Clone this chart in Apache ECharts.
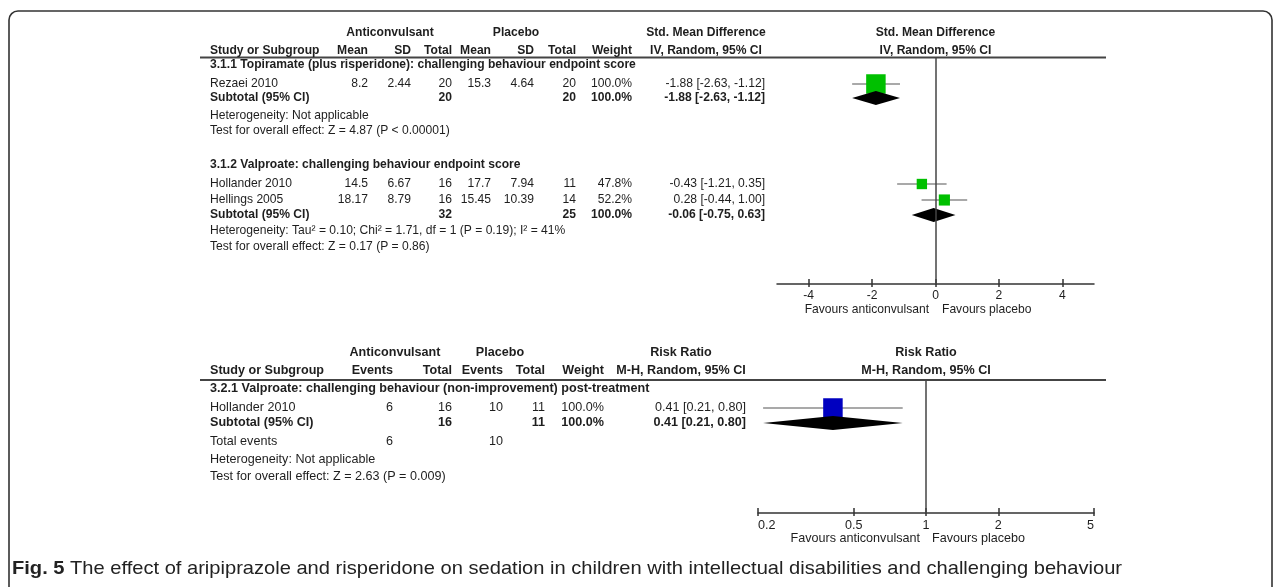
<!DOCTYPE html>
<html><head><meta charset="utf-8">
<script src="https://cdn.jsdelivr.net/npm/echarts@6/dist/echarts.min.js"></script>
<style>html,body{margin:0;padding:0;background:#fff;}#c{width:1281px;height:587px;}</style>
</head><body><div id="c"></div>
<script>
// ---------- DATA: Analysis 3.1 (Std. Mean Difference) ----------
const smdSubgroups = ['3.1.1 Topiramate (plus risperidone): challenging behaviour endpoint score',
                      '3.1.2 Valproate: challenging behaviour endpoint score'];
const smdStudies  = ['Rezaei 2010', 'Hollander 2010', 'Hellings 2005'];
const smdStudyGroup = [0, 1, 1];
const smdExpMean  = [8.2, 14.5, 18.17];
const smdExpSD    = [2.44, 6.67, 8.79];
const smdExpN     = [20, 16, 16];
const smdCtlMean  = [15.3, 17.7, 15.45];
const smdCtlSD    = [4.64, 7.94, 10.39];
const smdCtlN     = [20, 11, 14];
const smdWeight   = [100.0, 47.8, 52.2];
const smdEst      = [-1.88, -0.43, 0.28];
const smdLo       = [-2.63, -1.21, -0.44];
const smdHi       = [-1.12, 0.35, 1.00];
const smdSubExpN  = [20, 32];
const smdSubCtlN  = [20, 25];
const smdSubEst   = [-1.88, -0.06];
const smdSubLo    = [-2.63, -0.75];
const smdSubHi    = [-1.12, 0.63];
const smdHet  = ['Heterogeneity: Not applicable',
                 'Heterogeneity: Tau\u00B2 = 0.10; Chi\u00B2 = 1.71, df = 1 (P = 0.19); I\u00B2 = 41%'];
const smdTest = ['Test for overall effect: Z = 4.87 (P < 0.00001)',
                 'Test for overall effect: Z = 0.17 (P = 0.86)'];
const smdTicks = [-4, -2, 0, 2, 4];
const smdRange = [-5, 5];

// ---------- DATA: Analysis 3.2 (Risk Ratio) ----------
const rrSubgroups = ['3.2.1 Valproate: challenging behaviour (non-improvement) post-treatment'];
const rrStudies   = ['Hollander 2010'];
const rrExpEvents = [6];
const rrExpN      = [16];
const rrCtlEvents = [10];
const rrCtlN      = [11];
const rrWeight    = [100.0];
const rrEst       = [0.41];
const rrLo        = [0.21];
const rrHi        = [0.80];
const rrSubExpN   = [16];
const rrSubCtlN   = [11];
const rrSubEst    = [0.41];
const rrSubLo     = [0.21];
const rrSubHi     = [0.80];
const rrTotEvents = [6, 10];
const rrHet  = ['Heterogeneity: Not applicable'];
const rrTest = ['Test for overall effect: Z = 2.63 (P = 0.009)'];
const rrTicks = [0.2, 0.5, 1, 2, 5];
const rrRange = [0.2, 5];

const captionLabel = 'Fig. 5';
const caption = 'The effect of aripiprazole and risperidone on sedation in children with intellectual disabilities and challenging behaviour';

// ---------- LAYOUT ----------
const FF = '"Liberation Sans", Arial, Helvetica, sans-serif';
const TXT = '#1e1e1e';
const textLeft = 210;
const LT = { fs: 12.1, hdr1: 33, hdr2: 51, rule: 57.5, sub: [65, 165], study: [84, 184, 200], subtotal: [98, 215],
  het: [116, 231], test: [131, 247], axisY: 284, fav: 310,
  cols: [368, 411, 452, 491, 534, 576, 632, 765], grp: [390, 516], eff: 706,
  plotL: 777, plotR: 1094, favL: 929, favR: 942 };
const LB = { fs: 12.6, hdr1: 353, hdr2: 371, rule: 380, sub: [389], study: [408], subtotal: [423], tot: 442,
  het: [460], test: [477], axisY: 513, fav: 539,
  cols: [393, 452, 503, 545, 604, 746], grp: [395, 500], eff: 681,
  plotL: 758, plotR: 1094, favL: 920, favR: 932 };

const G = [];
function txt(s, x, y, o) {
  o = o || {};
  G.push({ type: 'text', x: x, y: y, silent: true, z: 10,
    style: { text: String(s), fill: TXT, font: (o.bold ? 'bold ' : '') + (o.size || 12) + 'px ' + FF,
      align: o.align || 'left', verticalAlign: 'middle' } });
}
function hline(x1, x2, y, w) {
  G.push({ type: 'line', silent: true, shape: { x1: x1, y1: y, x2: x2, y2: y }, style: { stroke: '#444', lineWidth: w || 2 } });
}
const f2 = v => v.toFixed(2);
const ci = (e, l, h) => f2(e) + ' [' + f2(l) + ', ' + f2(h) + ']';
const pct = v => v.toFixed(1) + '%';

// frame
G.push({ type: 'rect', silent: true, shape: { x: 9, y: 11, width: 1263, height: 640, r: 9 },
  style: { fill: 'none', stroke: '#333', lineWidth: 1.6 } });

// ---- top table ----
(function () {
  const S = LT.fs, B = { bold: 1, size: S }, R = { size: S };
  const c = (o, a) => Object.assign({}, o, a);
  txt('Anticonvulsant', LT.grp[0], LT.hdr1, c(B, { align: 'center' }));
  txt('Placebo', LT.grp[1], LT.hdr1, c(B, { align: 'center' }));
  txt('Std. Mean Difference', LT.eff, LT.hdr1, c(B, { align: 'center' }));
  txt('Std. Mean Difference', (LT.plotL + LT.plotR) / 2, LT.hdr1, c(B, { align: 'center' }));
  txt('Study or Subgroup', textLeft, LT.hdr2, B);
  ['Mean', 'SD', 'Total', 'Mean', 'SD', 'Total', 'Weight'].forEach((h, i) => txt(h, LT.cols[i], LT.hdr2, c(B, { align: 'right' })));
  txt('IV, Random, 95% CI', LT.eff, LT.hdr2, c(B, { align: 'center' }));
  txt('IV, Random, 95% CI', (LT.plotL + LT.plotR) / 2, LT.hdr2, c(B, { align: 'center' }));
  hline(200, 1106, LT.rule);
  smdSubgroups.forEach((s, g) => {
    txt(s, textLeft, LT.sub[g], B);
    txt('Subtotal (95% CI)', textLeft, LT.subtotal[g], B);
    txt(smdSubExpN[g], LT.cols[2], LT.subtotal[g], c(B, { align: 'right' }));
    txt(smdSubCtlN[g], LT.cols[5], LT.subtotal[g], c(B, { align: 'right' }));
    txt(pct(100), LT.cols[6], LT.subtotal[g], c(B, { align: 'right' }));
    txt(ci(smdSubEst[g], smdSubLo[g], smdSubHi[g]), LT.cols[7], LT.subtotal[g], c(B, { align: 'right' }));
    txt(smdHet[g], textLeft, LT.het[g], R);
    txt(smdTest[g], textLeft, LT.test[g], R);
  });
  smdStudies.forEach((s, i) => {
    const y = LT.study[i];
    txt(s, textLeft, y, R);
    [smdExpMean[i], smdExpSD[i], smdExpN[i], smdCtlMean[i], smdCtlSD[i], smdCtlN[i], pct(smdWeight[i]),
     ci(smdEst[i], smdLo[i], smdHi[i])].forEach((v, k) => txt(v, LT.cols[k], y, c(R, { align: 'right' })));
  });
  txt('Favours anticonvulsant', LT.favL, LT.fav, c(R, { align: 'right' }));
  txt('Favours placebo', LT.favR, LT.fav, R);
})();

// ---- bottom table ----
(function () {
  const S = LB.fs, B = { bold: 1, size: S }, R = { size: S };
  const c = (o, a) => Object.assign({}, o, a);
  txt('Anticonvulsant', LB.grp[0], LB.hdr1, c(B, { align: 'center' }));
  txt('Placebo', LB.grp[1], LB.hdr1, c(B, { align: 'center' }));
  txt('Risk Ratio', LB.eff, LB.hdr1, c(B, { align: 'center' }));
  txt('Risk Ratio', (LB.plotL + LB.plotR) / 2, LB.hdr1, c(B, { align: 'center' }));
  txt('Study or Subgroup', textLeft, LB.hdr2, B);
  ['Events', 'Total', 'Events', 'Total', 'Weight'].forEach((h, i) => txt(h, LB.cols[i], LB.hdr2, c(B, { align: 'right' })));
  txt('M-H, Random, 95% CI', LB.eff, LB.hdr2, c(B, { align: 'center' }));
  txt('M-H, Random, 95% CI', (LB.plotL + LB.plotR) / 2, LB.hdr2, c(B, { align: 'center' }));
  hline(200, 1106, LB.rule);
  rrSubgroups.forEach((s, g) => {
    txt(s, textLeft, LB.sub[g], B);
    txt('Subtotal (95% CI)', textLeft, LB.subtotal[g], B);
    txt(rrSubExpN[g], LB.cols[1], LB.subtotal[g], c(B, { align: 'right' }));
    txt(rrSubCtlN[g], LB.cols[3], LB.subtotal[g], c(B, { align: 'right' }));
    txt(pct(100), LB.cols[4], LB.subtotal[g], c(B, { align: 'right' }));
    txt(ci(rrSubEst[g], rrSubLo[g], rrSubHi[g]), LB.cols[5], LB.subtotal[g], c(B, { align: 'right' }));
    txt(rrHet[g], textLeft, LB.het[g], R);
    txt(rrTest[g], textLeft, LB.test[g], R);
  });
  rrStudies.forEach((s, i) => {
    const y = LB.study[i];
    txt(s, textLeft, y, R);
    [rrExpEvents[i], rrExpN[i], rrCtlEvents[i], rrCtlN[i], pct(rrWeight[i]), ci(rrEst[i], rrLo[i], rrHi[i])]
      .forEach((v, k) => txt(v, LB.cols[k], y, c(R, { align: 'right' })));
  });
  txt('Total events', textLeft, LB.tot, R);
  txt(rrTotEvents[0], LB.cols[0], LB.tot, c(R, { align: 'right' }));
  txt(rrTotEvents[1], LB.cols[2], LB.tot, c(R, { align: 'right' }));
  txt('Favours anticonvulsant', LB.favL, LB.fav, c(R, { align: 'right' }));
  txt('Favours placebo', LB.favR, LB.fav, R);
})();

// ---- caption (stretched to the reference width) ----
(function () {
  const cv = document.createElement('canvas').getContext('2d');
  const size = 18.5, target = 1110;
  cv.font = 'bold ' + size + 'px ' + FF; const w1 = cv.measureText(captionLabel + ' ').width;
  cv.font = size + 'px ' + FF; const w2 = cv.measureText(caption).width;
  const sx = Math.max(0.85, Math.min(1.25, target / (w1 + w2)));
  G.push({ type: 'text', x: 12, y: 569, scaleX: sx, silent: true,
    style: { text: '{b|' + captionLabel + '} ' + caption, fill: '#222', font: size + 'px ' + FF, verticalAlign: 'middle',
      rich: { b: { fontWeight: 'bold', fontSize: size, fontFamily: FF, fill: '#222' } } } });
})();

// ---------- CHART ----------
const SQ_GREEN = '#00c000', SQ_BLUE = '#0000c0';
function forestStudy(color) {
  return function (params, api) {
    const e = api.value(0), l = api.value(1), h = api.value(2), y = api.value(3), w = api.value(4);
    const pl = api.coord([l, y]), ph = api.coord([h, y]), pe = api.coord([e, y]);
    const s = 2 + 17.5 * w / 100;
    return { type: 'group', children: [
      { type: 'line', shape: { x1: pl[0], y1: pl[1], x2: ph[0], y2: ph[1] }, style: { stroke: '#555', lineWidth: 1.2 } },
      { type: 'rect', shape: { x: pe[0] - s / 2, y: pe[1] - s / 2, width: s, height: s }, style: { fill: color } }
    ] };
  };
}
function forestDiamond(params, api) {
  const e = api.value(0), l = api.value(1), h = api.value(2), y = api.value(3);
  const pl = api.coord([l, y]), ph = api.coord([h, y]), pe = api.coord([e, y]);
  const hh = 7;
  return { type: 'polygon', shape: { points: [[pl[0], pl[1]], [pe[0], pe[1] - hh], [ph[0], ph[1]], [pe[0], pe[1] + hh]] },
    style: { fill: '#000' } };
}
const lg = Math.log10;
function axisBase(idx, min, max, ticks, fmt, main, inside, len, margin, alignEnds, fs) {
  return {
    gridIndex: idx, type: 'value', min: min, max: max, position: 'bottom',
    axisLine: { show: main, onZero: false, lineStyle: { color: '#333', width: 1.5 } },
    axisTick: { show: true, customValues: ticks, inside: inside, length: len, lineStyle: { color: '#333', width: 1.5 } },
    axisLabel: Object.assign({ show: main, customValues: ticks, formatter: fmt, color: TXT, fontSize: fs, fontFamily: FF, margin: margin },
      alignEnds ? { alignMinLabel: 'left', alignMaxLabel: 'right' } : {}),
    splitLine: { show: false }
  };
}
const smdFmt = v => String(v);
const rrFmt = v => String(+Math.pow(10, v).toPrecision(3));

const option = {
  animation: false,
  grid: [
    { left: LT.plotL, width: LT.plotR - LT.plotL, top: LT.rule, height: LT.axisY - LT.rule },
    { left: LB.plotL, width: LB.plotR - LB.plotL, top: LB.rule, height: LB.axisY - LB.rule }
  ],
  xAxis: [
    axisBase(0, smdRange[0], smdRange[1], smdTicks, smdFmt, true, false, 3, 6, false, LT.fs),
    axisBase(0, smdRange[0], smdRange[1], smdTicks, smdFmt, false, true, 5, 6, false, LT.fs),
    axisBase(1, lg(rrRange[0]), lg(rrRange[1]), rrTicks.map(lg), rrFmt, true, false, 3, 6.5, true, LB.fs),
    axisBase(1, lg(rrRange[0]), lg(rrRange[1]), rrTicks.map(lg), rrFmt, false, true, 5, 6.5, true, LB.fs)
  ],
  yAxis: [
    { gridIndex: 0, type: 'value', inverse: true, min: LT.rule, max: LT.axisY, show: false },
    { gridIndex: 1, type: 'value', inverse: true, min: LB.rule, max: LB.axisY, show: false }
  ],
  series: [
    { type: 'line', xAxisIndex: 0, yAxisIndex: 0, data: [], silent: true,
      markLine: { silent: true, symbol: 'none', animation: false, label: { show: false },
        lineStyle: { color: '#444', width: 1.5, type: 'solid' }, data: [{ xAxis: 0 }] } },
    { type: 'line', xAxisIndex: 2, yAxisIndex: 1, data: [], silent: true,
      markLine: { silent: true, symbol: 'none', animation: false, label: { show: false },
        lineStyle: { color: '#444', width: 1.5, type: 'solid' }, data: [{ xAxis: lg(1) }] } },
    { type: 'custom', xAxisIndex: 0, yAxisIndex: 0, renderItem: forestStudy(SQ_GREEN), encode: { x: [0, 1, 2], y: 3 },
      data: smdEst.map((e, i) => [e, smdLo[i], smdHi[i], LT.study[i], smdWeight[i]]), z: 3 },
    { type: 'custom', xAxisIndex: 0, yAxisIndex: 0, renderItem: forestDiamond, encode: { x: [0, 1, 2], y: 3 },
      data: smdSubEst.map((e, g) => [e, smdSubLo[g], smdSubHi[g], LT.subtotal[g]]), z: 4 },
    { type: 'custom', xAxisIndex: 2, yAxisIndex: 1, renderItem: forestStudy(SQ_BLUE), encode: { x: [0, 1, 2], y: 3 },
      data: rrEst.map((e, i) => [lg(e), lg(rrLo[i]), lg(rrHi[i]), LB.study[i], rrWeight[i]]), z: 3 },
    { type: 'custom', xAxisIndex: 2, yAxisIndex: 1, renderItem: forestDiamond, encode: { x: [0, 1, 2], y: 3 },
      data: rrSubEst.map((e, g) => [lg(e), lg(rrSubLo[g]), lg(rrSubHi[g]), LB.subtotal[g]]), z: 4 }
  ],
  graphic: G
};
const chart = echarts.init(document.getElementById('c'), null, { renderer: 'canvas' });
chart.setOption(option);
</script></body></html>
